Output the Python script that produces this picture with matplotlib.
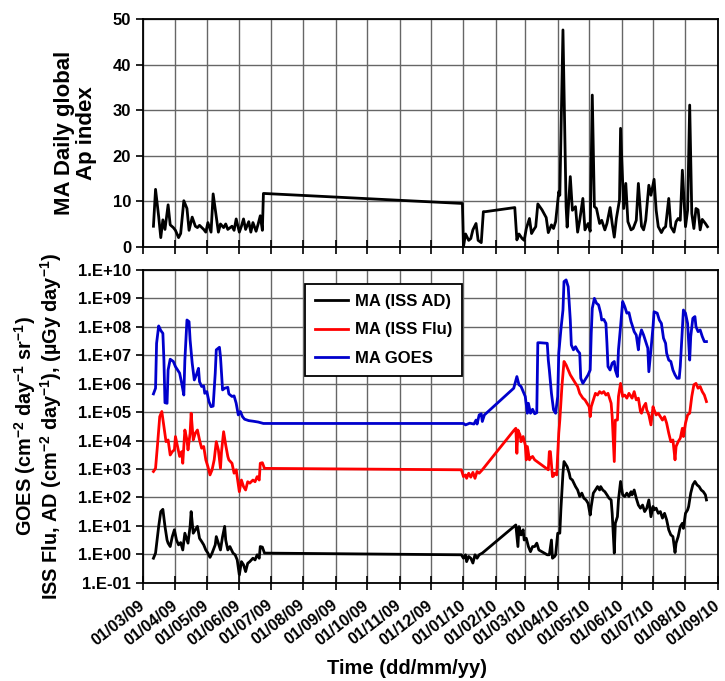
import numpy as np
import pandas as pd
import matplotlib
matplotlib.use("Agg")
import matplotlib.pyplot as plt
import matplotlib.dates as mdates
from matplotlib.ticker import FuncFormatter, NullLocator

plt.rcParams['font.family'] = ['Liberation Sans', 'DejaVu Sans']
plt.rcParams['font.weight'] = 'bold'
plt.rcParams['mathtext.fontset'] = 'custom'
plt.rcParams['mathtext.bf'] = 'Liberation Sans:bold'
plt.rcParams['mathtext.rm'] = 'Liberation Sans:bold'
plt.rcParams['mathtext.default'] = 'bf'

# days are counted from 01/03/2009
START = pd.Timestamp('2009-03-01')

# --- top panel: moving average of daily Ap index
ap_days = [10, 12, 15, 17, 19, 21, 24, 26, 29, 31, 34, 36, 39, 42, 44, 47, 50, 52, 54, 58,
           60, 62, 65, 67, 70, 72, 74, 77, 79, 81, 85, 87, 89, 92, 94, 96, 98, 101, 103, 105,
           108, 110, 112, 114, 115, 305, 306, 308, 311, 313, 315, 318, 320, 323, 325, 327, 355, 357,
           359, 362, 364, 366, 369, 371, 373, 375, 377, 381, 385, 387, 390, 392, 394, 397, 398,
           401, 404, 405, 408, 410, 413, 415, 417, 420, 422, 425, 427, 429, 431, 433, 436, 438,
           441, 443, 446, 448, 450, 452, 455, 456, 459, 461, 463, 466, 468, 471, 473, 476, 478,
           480, 483, 485, 488, 490, 492, 495, 497, 499, 502, 504, 507, 509, 511, 513, 515, 518,
           520, 522, 524, 526, 528, 530, 532, 534, 537, 539]
ap_vals = [4.5, 12.6, 6.6, 2.0, 5.9, 3.8, 9.2, 4.8, 4.2, 3.6, 2.0, 2.9, 10.1, 8.4, 3.6, 6.5, 4.5, 4.2, 4.7, 3.8,
           3.2, 5.3, 3.2, 11.6, 6.5, 3.2, 5.0, 4.2, 5.0, 3.8, 4.5, 3.6, 6.1, 3.2, 4.5, 6.1, 3.8, 5.5, 3.2, 5.3,
           3.4, 5.0, 6.8, 3.6, 11.7, 9.5, 0.0, 2.8, 1.4, 1.8, 3.7, 5.1, 1.4, 0.9, 7.7, 7.7, 8.6, 1.5,
           2.8, 1.8, 1.4, 4.0, 6.2, 2.9, 3.7, 4.4, 9.4, 8.1, 6.4, 3.1, 4.8, 4.0, 5.5, 12.1, 11.3,
           47.6, 8.8, 4.3, 15.4, 8.0, 8.8, 3.2, 5.8, 10.6, 3.7, 5.1, 3.4, 33.3, 8.8, 8.4, 5.1, 5.8,
           3.7, 5.1, 8.6, 5.1, 2.1, 6.2, 10.3, 26.0, 8.4, 13.9, 5.5, 3.7, 4.0, 5.8, 13.9, 4.5, 3.7,
           5.8, 13.5, 11.3, 14.8, 8.0, 4.4, 3.1, 4.0, 4.4, 10.6, 4.4, 3.2, 5.5, 6.2, 5.8, 16.8, 4.4,
           8.0, 31.1, 7.3, 4.0, 8.4, 8.1, 3.7, 6.0, 5.1, 4.4]

# --- bottom panel: moving averages, stored as log10 of the value
goes_days = [10, 12, 13, 15, 17, 19, 20, 21, 23, 24, 26, 29, 31, 35, 37, 39, 40, 42, 44, 45,
             47, 49, 51, 53, 54, 56, 58, 59, 61, 63, 65, 67, 69, 70, 73, 74, 76, 78, 81, 82,
             85, 87, 89, 91, 93, 95, 97, 101, 105, 110, 115, 306, 308, 312, 316, 318, 319, 321,
             323, 324, 326, 354, 357, 359, 361, 363, 365, 367, 368, 370, 372, 374, 376, 377, 379,
             386, 387, 388, 390, 392, 394, 396, 397, 399, 401, 402, 404, 406, 408, 409, 411, 413,
             415, 417, 418, 420, 422, 425, 427, 428, 429, 431, 433, 435, 437, 438, 440, 442, 443,
             444, 446, 448, 450, 451, 453, 454, 456, 458, 460, 462, 464, 466, 467, 469, 471, 473,
             474, 476, 478, 480, 482, 483, 485, 487, 488, 491, 493, 495, 497, 499, 500, 502, 504,
             506, 508, 510, 512, 513, 515, 516, 518, 520, 522, 523, 525, 527, 528, 530, 532, 534,
             536, 538]
goes_log = [5.64, 5.84, 7.42, 8.03, 7.87, 7.77, 6.83, 5.33, 5.31, 6.48, 6.86, 6.78, 6.60, 6.37, 6.01, 5.60, 6.83, 8.24, 8.18, 7.54,
            6.72, 6.13, 6.31, 6.54, 6.07, 5.90, 5.92, 5.66, 5.72, 5.37, 5.19, 5.21, 6.37, 7.19, 7.28, 6.95, 5.78, 5.84, 5.87, 5.64,
            5.55, 5.57, 5.31, 4.90, 5.02, 4.84, 4.75, 4.70, 4.68, 4.65, 4.60, 4.60, 4.55, 4.61, 4.58, 4.72, 4.58, 4.90,
            4.94, 4.67, 4.90, 5.84, 6.25, 5.96, 5.90, 5.72, 5.55, 4.96, 5.31, 4.96, 5.10, 4.94, 4.98, 7.44, 7.44,
            7.42, 6.83, 6.48, 5.66, 5.08, 4.96, 5.55, 7.07, 7.89, 8.59, 9.59, 9.65, 9.41, 8.24, 7.36, 7.19, 7.30,
            7.16, 7.07, 6.19, 6.01, 6.13, 6.31, 6.48, 7.77, 8.65, 9.00, 8.83, 8.77, 8.48, 8.24, 8.26, 8.12, 7.42,
            6.60, 6.48, 6.72, 6.78, 6.48, 6.25, 7.19, 8.01, 8.89, 8.71, 8.48, 8.50, 8.18, 8.07, 7.83, 7.71, 7.19,
            7.60, 7.89, 7.71, 7.48, 7.25, 6.42, 7.19, 8.01, 8.53, 8.48, 8.24, 8.12, 7.60, 7.42, 7.07, 6.83, 6.78,
            6.48, 6.31, 6.19, 6.19, 6.60, 7.89, 8.59, 8.48, 8.12, 6.83, 7.66, 8.30, 8.36, 8.01, 7.83, 7.89, 7.66,
            7.48, 7.48]

flu_days = [10, 12, 14, 16, 18, 20, 22, 24, 26, 28, 30, 31, 33, 35, 37, 38, 40, 42, 43, 45,
            46, 48, 50, 52, 54, 56, 58, 60, 62, 64, 66, 68, 70, 72, 74, 75, 77, 79, 81, 82,
            85, 87, 89, 92, 94, 96, 98, 100, 102, 105, 107, 109, 111, 112, 114, 116, 304, 306, 308,
            309, 311, 313, 315, 317, 319, 321, 324, 354, 356, 357, 358, 360, 361, 363, 365, 366, 367,
            369, 370, 372, 374, 385, 387, 388, 389, 391, 392, 393, 395, 397, 398, 400, 402, 404, 406,
            408, 410, 413, 415, 417, 420, 422, 424, 426, 427, 428, 430, 432, 434, 436, 438, 440, 442,
            444, 446, 447, 448, 450, 451, 453, 454, 456, 458, 460, 462, 464, 466, 467, 469, 471, 473,
            475, 476, 478, 480, 481, 483, 485, 487, 488, 490, 492, 494, 496, 498, 500, 502, 504, 506,
            508, 509, 511, 513, 515, 516, 518, 520, 522, 524, 526, 528, 530, 532, 534, 536, 538]
flu_log = [2.91, 3.02, 3.90, 4.84, 5.02, 4.49, 3.96, 4.02, 3.49, 3.61, 3.67, 4.14, 3.79, 3.44, 3.61, 3.20, 4.37, 4.02, 3.67, 4.26,
           4.96, 4.02, 4.26, 4.37, 4.02, 3.73, 3.79, 3.32, 3.08, 2.79, 2.97, 3.32, 3.96, 3.67, 3.02, 3.61, 4.31, 3.84, 3.44, 3.32,
           3.20, 2.85, 2.97, 2.20, 2.61, 2.38, 2.26, 2.55, 2.50, 2.61, 2.55, 2.73, 2.61, 3.20, 3.22, 3.02, 2.97, 2.73, 2.79,
           2.67, 2.85, 2.71, 2.88, 2.67, 2.91, 2.85, 2.97, 4.35, 4.43, 3.55, 4.37, 4.20, 3.96, 4.14, 3.84, 3.32, 3.79,
           3.32, 3.38, 3.44, 3.32, 3.02, 2.97, 3.61, 3.61, 2.73, 2.75, 2.85, 2.79, 4.26, 4.72, 5.90, 6.78, 6.66, 6.48,
           6.31, 6.19, 6.01, 5.90, 5.66, 5.49, 5.43, 5.31, 5.19, 4.84, 5.19, 5.43, 5.66, 5.60, 5.72, 5.66, 5.72, 5.60,
           5.66, 5.43, 5.31, 4.84, 3.26, 4.72, 4.72, 5.55, 6.01, 5.55, 5.60, 5.49, 5.66, 5.55, 5.49, 5.72, 5.43, 5.49,
           5.02, 4.96, 5.19, 5.31, 5.08, 4.90, 4.55, 5.19, 5.08, 4.90, 4.96, 4.84, 4.72, 4.84, 4.61, 4.26, 3.96, 4.02,
           3.32, 3.79, 3.96, 4.08, 4.43, 4.14, 4.61, 4.90, 4.96, 5.55, 5.96, 6.01, 5.84, 5.90, 5.72, 5.60, 5.37]

ad_days = [10, 12, 15, 17, 19, 21, 23, 24, 26, 28, 30, 32, 34, 36, 38, 40, 42, 43, 45, 46,
           48, 50, 52, 54, 56, 58, 60, 62, 64, 66, 69, 70, 72, 74, 76, 78, 79, 81, 83, 86,
           88, 90, 92, 94, 96, 98, 100, 102, 105, 107, 109, 111, 112, 114, 116, 304, 306, 308, 309,
           311, 313, 315, 317, 319, 321, 324, 354, 356, 358, 359, 361, 363, 364, 366, 368, 370, 372,
           374, 376, 378, 386, 388, 390, 391, 393, 394, 396, 398, 399, 401, 402, 405, 407, 408, 410,
           413, 415, 417, 419, 421, 423, 425, 427, 428, 430, 432, 434, 436, 437, 439, 441, 443, 445,
           447, 448, 450, 451, 453, 454, 456, 458, 460, 462, 464, 466, 467, 469, 471, 473, 475, 477,
           479, 481, 483, 485, 487, 488, 490, 492, 494, 496, 498, 500, 502, 504, 506, 508, 509, 511,
           513, 515, 516, 518, 520, 521, 523, 525, 527, 529, 531, 533, 535, 537, 538]
ad_log = [-0.14, 0.04, 0.98, 1.50, 1.58, 0.98, 0.50, 0.39, 0.27, 0.62, 0.86, 0.50, 0.33, 0.41, 0.15, 0.74, 0.50, 0.39, 0.98, 1.50,
          0.74, 0.86, 0.98, 0.56, 0.45, 0.33, 0.15, 0.04, -0.11, 0.04, 0.33, 0.62, 0.39, 0.15, 0.62, 0.98, 0.50, 0.15, 0.27, 0.04,
          -0.02, -0.20, -0.73, -0.26, -0.37, -0.61, -0.32, -0.26, -0.14, -0.20, -0.02, -0.14, 0.27, 0.25, 0.04, -0.02, -0.14, -0.02, -0.26,
          -0.08, -0.14, -0.31, -0.02, -0.14, -0.02, 0.04, 0.97, 1.03, 0.27, 0.97, 0.68, 0.86, 0.50, 0.56, 0.27, 0.09, 0.27,
          0.27, 0.39, 0.15, -0.02, -0.02, 0.50, -0.14, -0.08, -0.02, 0.74, 0.74, 1.56, 2.85, 3.26, 3.08, 2.85, 2.67, 2.61,
          2.38, 2.26, 2.03, 2.15, 1.97, 1.91, 1.79, 1.38, 1.68, 2.15, 2.26, 2.38, 2.26, 2.38, 2.26, 2.20, 2.09, 1.97,
          1.91, 1.44, 0.04, 1.09, 1.32, 1.91, 2.56, 2.09, 2.03, 2.15, 2.03, 2.20, 2.09, 2.26, 1.97, 1.73, 1.62, 1.73,
          1.50, 1.62, 1.91, 1.32, 1.68, 1.56, 1.62, 1.44, 1.50, 1.27, 1.44, 1.21, 0.86, 0.68, 0.62, 0.06, 0.39, 0.62,
          0.97, 1.09, 0.91, 1.44, 1.56, 1.68, 2.15, 2.44, 2.56, 2.44, 2.38, 2.26, 2.20, 2.09, 1.91]

month_ticks = pd.date_range('2009-03-01', '2010-09-01', freq='MS')
log_ticks = 10.0 ** np.arange(-1, 11)


def to_dates(days):
    return START + pd.to_timedelta(np.array(days), unit='D')


fig = plt.figure(figsize=(7.25, 6.81), dpi=100)
ax1 = fig.add_axes([0.1972, 0.6377, 0.7931, 0.3344])
ax2 = fig.add_axes([0.1972, 0.1444, 0.7931, 0.4592])

ax1.plot(to_dates(ap_days), ap_vals, color='black', lw=2.0)
ax1.set_ylim(0, 50)
ax1.set_yticks(range(0, 51, 10))
ax1.set_ylabel('MA Daily global\nAp index', fontsize=16, fontweight='bold', va='center', linespacing=1.05)
ax1.yaxis.set_label_coords(-0.118, 0.5)

ax2.plot(to_dates(ad_days), 10.0 ** np.array(ad_log), color='black', lw=2.0, label='MA (ISS AD)')
ax2.plot(to_dates(flu_days), 10.0 ** np.array(flu_log), color='#ff0000', lw=2.0, label='MA (ISS Flu)')
ax2.plot(to_dates(goes_days), 10.0 ** np.array(goes_log), color='#0000cc', lw=2.0, label='MA GOES')
ax2.set_yscale('log')
ax2.set_ylim(1e-1, 1e10)
ax2.set_yticks(log_ticks)
ax2.yaxis.set_minor_locator(NullLocator())
ax2.yaxis.set_major_formatter(FuncFormatter(lambda v, p: f"1.E{int(round(np.log10(v))):+03d}"))
ax2.set_ylabel('GOES (cm$^{-2}$ day$^{-1}$ sr$^{-1}$)\nISS Flu, AD (cm$^{-2}$ day$^{-1}$), (\u00b5Gy day$^{-1}$)',
               fontsize=14.3, fontweight='bold', va='center', linespacing=1.0)
ax2.yaxis.set_label_coords(-0.182, 0.5)

for ax in (ax1, ax2):
    ax.set_xlim(month_ticks[0], month_ticks[-1])
    ax.set_xticks(month_ticks)
    ax.grid(True, color='#666666', lw=1.0)
    ax.set_axisbelow(True)
    ax.tick_params(axis='y', labelsize=12, direction='out', length=5, width=1.2)
    ax.tick_params(axis='x', direction='inout', length=10, width=1.2)
    for s in ax.spines.values():
        s.set_linewidth(1.3)
        s.set_color('black')

ax1.tick_params(axis='x', labelbottom=False)
ax2.tick_params(axis='x', pad=10)
ax2.xaxis.set_major_formatter(mdates.DateFormatter('%d/%m/%y'))
for lab in ax2.get_xticklabels():
    lab.set_rotation(38)
    lab.set_ha('right')
    lab.set_va('center')
    lab.set_rotation_mode('anchor')
    lab.set_fontsize(11.5)
    lab.set_fontweight('bold')

leg = ax2.legend(loc='upper left', bbox_to_anchor=(0.282, 0.955), fancybox=False, edgecolor='black',
                 framealpha=1, fontsize=12, handlelength=2.0, borderpad=0.6, labelspacing=0.8,
                 handletextpad=0.4, borderaxespad=0)
leg.get_frame().set_linewidth(1.3)
for t in leg.get_texts():
    t.set_fontweight('bold')

fig.text(407 / 725, 1 - 668 / 681, 'Time (dd/mm/yy)', ha='center', va='center', fontsize=14.5, fontweight='bold')

fig.savefig('out.png', dpi=100)
